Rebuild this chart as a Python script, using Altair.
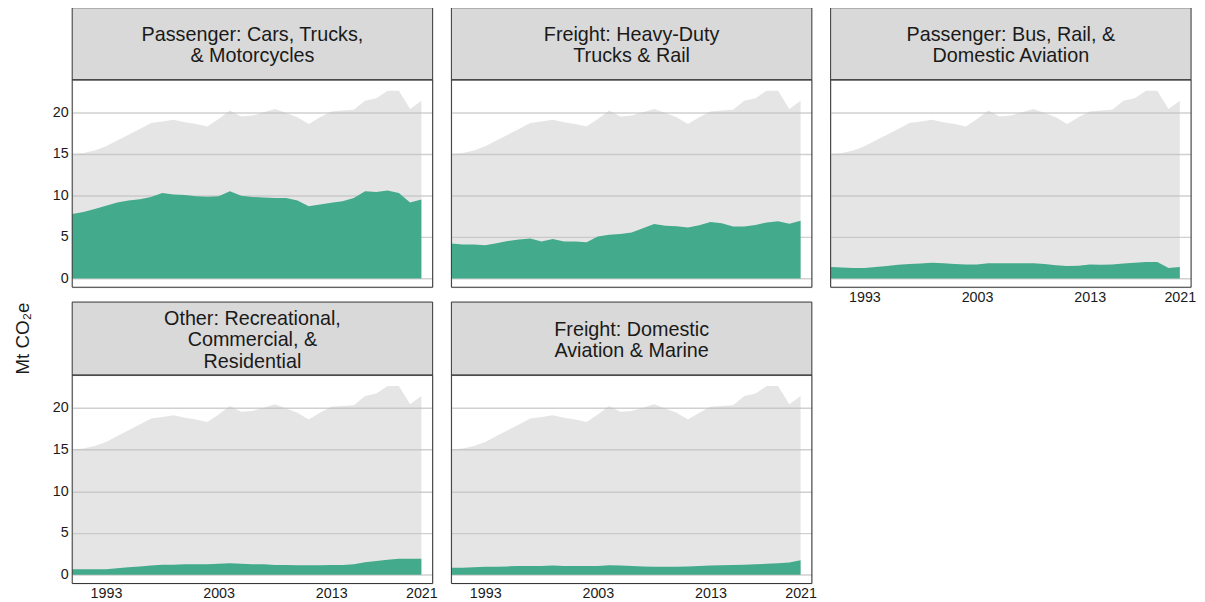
import altair as alt
import pandas as pd

FONT = "Liberation Sans"

years = list(range(1990, 2022))
total = [15.0, 15.1, 15.4, 15.9, 16.6, 17.3, 18.0, 18.7, 18.9, 19.1,
         18.8, 18.6, 18.3, 19.2, 20.2, 19.5, 19.6, 20.0, 20.4, 19.9,
         19.4, 18.6, 19.4, 20.1, 20.2, 20.3, 21.4, 21.7, 22.6, 22.6,
         20.4, 21.4]

categories = [
    "Passenger: Cars, Trucks,\n& Motorcycles",
    "Freight: Heavy-Duty\nTrucks & Rail",
    "Passenger: Bus, Rail, &\nDomestic Aviation",
    "Other: Recreational,\nCommercial, &\nResidential",
    "Freight: Domestic\nAviation & Marine",
]

cars_trucks = [7.75, 8.0, 8.35, 8.75, 9.15, 9.4, 9.55, 9.8, 10.3, 10.1,
               10.05, 9.9, 9.85, 9.9, 10.5, 9.95, 9.8, 9.75, 9.7, 9.7,
               9.4, 8.7, 8.9, 9.1, 9.3, 9.7, 10.5, 10.4, 10.6, 10.3,
               9.15, 9.5]
heavy_freight = [4.2, 4.1, 4.1, 4.0, 4.25, 4.5, 4.7, 4.8, 4.45, 4.75,
                 4.45, 4.45, 4.35, 5.05, 5.25, 5.35, 5.55, 6.05, 6.55, 6.35,
                 6.3, 6.15, 6.4, 6.8, 6.65, 6.25, 6.25, 6.45, 6.75, 6.9,
                 6.6, 6.95]
bus_rail_air = [1.37, 1.33, 1.25, 1.25, 1.37, 1.5, 1.65, 1.75, 1.8, 1.9,
                1.85, 1.75, 1.7, 1.7, 1.85, 1.85, 1.85, 1.85, 1.85, 1.75,
                1.6, 1.5, 1.55, 1.7, 1.65, 1.7, 1.8, 1.9, 2.0, 2.0,
                1.25, 1.37]
other_rec = [0.65, 0.65, 0.65, 0.65, 0.77, 0.9, 1.0, 1.1, 1.2, 1.2,
             1.25, 1.25, 1.25, 1.3, 1.37, 1.3, 1.25, 1.25, 1.17, 1.17,
             1.13, 1.13, 1.13, 1.17, 1.17, 1.25, 1.5, 1.65, 1.8, 1.9,
             1.9, 1.9]
freight_air_marine = [0.85, 0.85, 0.9, 0.95, 0.95, 1.0, 1.05, 1.05, 1.05, 1.1,
                      1.05, 1.05, 1.05, 1.05, 1.13, 1.1, 1.05, 1.0, 0.97, 0.97,
                      0.97, 1.0, 1.05, 1.1, 1.13, 1.17, 1.2, 1.25, 1.3, 1.37,
                      1.45, 1.73]

series = [cars_trucks, heavy_freight, bus_rail_air, other_rec, freight_air_marine]

x_ticks = [1993, 2003, 2013, 2021]
y_ticks = [0, 5, 10, 15, 20]
y_title = "Mt CO\u2082e"

W = 365
TOP_H, TOP_SH = 210, 73
BOT_H, BOT_SH = 211, 74
LH = 21.5
TEXT = "#1a1a1a"
BORDER = "#333333"
PAD = {"left": 5, "top": -5, "right": 0, "bottom": 0}


def panel(i, show_x, show_y, H, SH, with_title=False):
    df = pd.DataFrame({"year": years, "total": total, "value": series[i]})
    if show_x:
        x_axis = alt.Axis(values=x_ticks, format="d", title=None, grid=False,
                          ticks=False, tickSize=0, domain=False, labelFontSize=14.5,
                          labelColor=TEXT, labelPadding=3, labelFlush=False,
                          labelFont=FONT)
    else:
        x_axis = None
    y_axis = alt.Axis(values=y_ticks, title=None, grid=True, gridColor="#d0d0d0",
                      gridWidth=1.5, ticks=False, tickSize=0, domain=False,
                      labels=show_y, labelFontSize=14.5, labelColor=TEXT,
                      labelPadding=4, labelFont=FONT)
    xs = alt.X("year:Q", scale=alt.Scale(domain=[1990, 2022], nice=False, zero=False),
               axis=x_axis)
    ys = alt.Y("total:Q", scale=alt.Scale(domain=[-1.05, 23.9], nice=False, zero=False),
               axis=y_axis)
    base = alt.Chart(df)
    grey = base.mark_area(color="#bdbdbd", opacity=0.4).encode(x=xs, y=ys, y2=alt.datum(0))
    green = base.mark_area(color="#43aa8b").encode(
        x=alt.X("year:Q"), y=alt.Y("value:Q"), y2=alt.datum(0))
    label = categories[i]
    n_lines = label.count("\n") + 1
    sdf = pd.DataFrame({"label": [label]})
    strip_bg = alt.Chart(sdf).mark_rect(fill="#d9d9d9", stroke=BORDER, strokeWidth=1).encode(
        x=alt.value(0), x2=alt.value(W), y=alt.value(-SH), y2=alt.value(0))
    strip_txt = alt.Chart(sdf).mark_text(
        lineBreak="\n", fontSize=20, font=FONT, color=TEXT, lineHeight=LH,
        baseline="middle", align="center").encode(
        x=alt.value(W / 2), y=alt.value(-SH / 2 - (n_lines - 1) * LH / 2 + 2), text="label:N")
    border = alt.Chart(sdf).mark_rect(fillOpacity=0, stroke=BORDER, strokeWidth=1).encode(
        x=alt.value(0), x2=alt.value(W), y=alt.value(0), y2=alt.value(H))
    layers = [grey, green, strip_bg, strip_txt, border]
    if with_title:
        tdf = pd.DataFrame({"t": [y_title]})
        layers.append(alt.Chart(tdf).mark_text(
            angle=270, fontSize=19, font=FONT, color=TEXT, baseline="middle",
            align="center").encode(x=alt.value(-50), y=alt.value(-37), text="t:N"))
    return alt.layer(*layers).properties(width=W, height=H)


col1 = alt.vconcat(panel(0, False, True, TOP_H, TOP_SH),
                   panel(3, True, True, BOT_H, BOT_SH, with_title=True), spacing=13)
col2 = alt.vconcat(panel(1, False, False, TOP_H, TOP_SH),
                   panel(4, True, False, BOT_H, BOT_SH), spacing=13)
col3 = alt.vconcat(panel(2, True, False, TOP_H, TOP_SH), spacing=13)

chart = alt.hconcat(col1, col2, col3, spacing=12).properties(
    padding=PAD
).configure_view(stroke="transparent", strokeWidth=0).configure(
    font=FONT, background="white")

chart.save("out.html", embed_options={"renderer": "svg", "actions": False})
